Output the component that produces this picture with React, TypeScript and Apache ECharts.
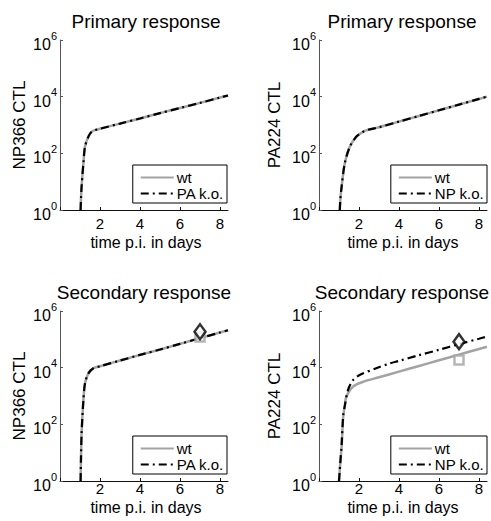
import React, { useEffect, useRef } from 'react';
import * as echarts from 'echarts';

const FONT = '"Liberation Sans", Arial, Helvetica, sans-serif';

// Panel A: NP366 primary response (wt vs PA k.o.)
const np1Days = [1.03, 1.05, 1.08, 1.17, 1.25, 1.42, 1.58, 1.75, 2, 3, 4, 5, 6, 7, 8, 8.4];
const np1Wt = [1, 2.5, 6.6, 45, 170, 390, 575, 660, 740, 1120, 1700, 2630, 3980, 6030, 9330, 10960];
const np1Ko = [1, 2.5, 6.6, 45, 170, 390, 575, 660, 740, 1120, 1700, 2630, 3980, 6030, 9330, 10960];

// Panel B: PA224 primary response (wt vs NP k.o.)
const pa1Days = [1.04, 1.07, 1.13, 1.29, 1.54, 1.87, 2.2, 2.5, 3, 4, 5, 6, 7, 8, 8.4];
const pa1Wt = [1, 2.5, 6.6, 45, 170, 390, 575, 690, 830, 1320, 2090, 3310, 5250, 8320, 10000];
const pa1Ko = [1, 2.5, 6.6, 45, 170, 390, 575, 690, 830, 1320, 2090, 3310, 5250, 8320, 10000];

// Panel C: NP366 secondary response
const np2Days = [1.03, 1.05, 1.08, 1.17, 1.25, 1.42, 1.67, 2, 3, 4, 5, 6, 7, 8, 8.4];
const np2Wt = [1, 6.3, 48, 720, 2800, 6300, 9550, 11200, 17800, 28200, 43600, 69200, 110000, 174000, 209000];
const np2Ko = [1, 6.3, 48, 720, 2800, 6300, 9550, 11200, 17800, 28200, 43600, 69200, 110000, 174000, 209000];
const np2MeasDay = [7];
const np2MeasWt = [120000];
const np2MeasKo = [186000];

// Panel D: PA224 secondary response
const pa2WtDays = [1.0, 1.06, 1.13, 1.21, 1.29, 1.37, 1.7, 2.2, 3, 4, 5, 6, 7, 8, 8.4];
const pa2Wt = [1, 4, 16, 186, 450, 955, 2140, 3160, 4570, 7240, 11500, 18200, 28800, 45700, 55000];
const pa2KoDays = [1.0, 1.06, 1.13, 1.21, 1.29, 1.45, 1.7, 2.03, 2.86, 3.53, 4, 5, 6, 7, 8, 8.4];
const pa2Ko = [1, 4, 18, 200, 450, 1620, 3630, 5500, 9550, 14100, 17400, 27500, 42700, 67600, 105000, 126000];
const pa2MeasDay = [7];
const pa2MeasWt = [18600];
const pa2MeasKo = [83000];

const titles = ['Primary response', 'Primary response', 'Secondary response', 'Secondary response'];
const yNames = ['NP366 CTL', 'PA224 CTL', 'NP366 CTL', 'PA224 CTL'];
const xName = 'time p.i. in days';
const koNames = ['PA k.o.', 'NP k.o.', 'PA k.o.', 'NP k.o.'];

const pairs = (xs: number[], ys: number[]) => xs.map((x, i) => [x, ys[i]]);

const GREY = '#a3a3a3';

export default function App() {
  const ref = useRef<HTMLDivElement>(null);
  useEffect(() => {
    if (!ref.current) return;
    const chart = echarts.init(ref.current, undefined, { renderer: 'svg' });
    const grids = [
      { left: 60, top: 40, width: 168, height: 170 },
      { left: 319, top: 40, width: 168, height: 170 },
      { left: 60, top: 311, width: 168, height: 170 },
      { left: 319, top: 311, width: 168, height: 170 },
    ];
    const xAxes = grids.map((_, i) => ({
      type: 'value',
      gridIndex: i,
      min: 0,
      max: 8.4,
      interval: 2,
      splitLine: { show: false },
      axisLine: { lineStyle: { color: '#111', width: 1 } },
      axisTick: { inside: true, length: 3, lineStyle: { color: '#111' } },
      axisLabel: {
        margin: i < 2 ? 7 : 1,
        fontSize: 15,
        lineHeight: 13,
        fontFamily: FONT,
        color: '#000',
        formatter: (v: number) => (v === 0 ? '' : String(v)),
      },
    }));
    const yAxes = grids.map((_, i) => ({
      type: 'log',
      logBase: 10,
      gridIndex: i,
      min: 1,
      max: 1e6,
      interval: 2,
      splitLine: { show: false },
      minorTick: { show: false },
      axisLine: { lineStyle: { color: '#555', width: 1 } },
      axisTick: { inside: true, length: 3, lineStyle: { color: '#555' } },
      axisLabel: {
        margin: 3,
        color: '#000',
        formatter: (v: number) => `{b|10}{e|${Math.round(Math.log10(v))}}`,
        rich: {
          b: { fontSize: 16, fontFamily: FONT, color: '#000', padding: [9, 0, 0, 0] },
          e: { fontSize: 11, fontFamily: FONT, color: '#000', padding: [0, 0, 9, 0] },
        },
      },
    }));

    const wtLine = (i: number, data: number[][]) => ({
      type: 'line',
      name: 'wt',
      xAxisIndex: i,
      yAxisIndex: i,
      data,
      symbol: 'none',
      smooth: 0.3,
      lineStyle: { color: GREY, width: 2.5, type: 'solid' },
      itemStyle: { color: GREY },
      z: 2,
    });
    const koLine = (i: number, data: number[][]) => ({
      type: 'line',
      name: koNames[i],
      xAxisIndex: i,
      yAxisIndex: i,
      data,
      symbol: 'none',
      smooth: 0.3,
      lineStyle: { color: '#000', width: 2.2, type: [8, 4, 2, 4] },
      itemStyle: { color: '#000' },
      z: 3,
    });
    const square = (i: number, data: number[][]) => ({
      type: 'scatter',
      name: 'meas-wt',
      xAxisIndex: i,
      yAxisIndex: i,
      data,
      symbol: 'rect',
      symbolSize: 9,
      itemStyle: { color: '#fff', borderColor: GREY, borderWidth: 2.5 },
      z: 4,
    });
    const diamond = (i: number, data: number[][]) => ({
      type: 'scatter',
      name: 'meas-ko',
      xAxisIndex: i,
      yAxisIndex: i,
      data,
      symbol: 'diamond',
      symbolSize: [11, 15],
      itemStyle: { color: '#fff', borderColor: '#000', borderWidth: 2.5 },
      z: 5,
    });

    const series = [
      wtLine(0, pairs(np1Days, np1Wt)),
      koLine(0, pairs(np1Days, np1Ko)),
      wtLine(1, pairs(pa1Days, pa1Wt)),
      koLine(1, pairs(pa1Days, pa1Ko)),
      wtLine(2, pairs(np2Days, np2Wt)),
      koLine(2, pairs(np2Days, np2Ko)),
      square(2, pairs(np2MeasDay, np2MeasWt)),
      diamond(2, pairs(np2MeasDay, np2MeasKo)),
      wtLine(3, pairs(pa2WtDays, pa2Wt)),
      koLine(3, pairs(pa2KoDays, pa2Ko)),
      square(3, pairs(pa2MeasDay, pa2MeasWt)),
      diamond(3, pairs(pa2MeasDay, pa2MeasKo)),
    ];

    const legendPos = [
      { right: 264, bottom: 318 },
      { right: 4, bottom: 318 },
      { right: 264, bottom: 47 },
      { right: 4, bottom: 47 },
    ];
    const legends = legendPos.map((p, i) => ({
      ...p,
      orient: 'vertical',
      data: ['wt', koNames[i]],
      itemWidth: 33,
      itemHeight: 14,
      itemGap: 1,
      padding: [5, 3, 2, 7],
      borderColor: '#000',
      borderWidth: 1,
      backgroundColor: '#fff',
      selectedMode: false,
      itemStyle: { opacity: 0, color: 'transparent', borderColor: 'transparent', borderWidth: 0 },
      textStyle: { fontSize: 15, fontFamily: FONT, color: '#000', padding: [0, 0, 0, -2] },
    }));

    const txt = (text: string, x: number, y: number, size: number, rot = 0) => ({
      type: 'text',
      x,
      y,
      rotation: rot,
      style: {
        text,
        fontSize: size,
        lineHeight: size - 2,
        fontFamily: FONT,
        fill: '#000',
        align: 'center',
        verticalAlign: 'middle',
      },
    });
    const titlePos = [
      [146, 21],
      [402, 21],
      [144, 292],
      [402, 292],
    ];
    const yNamePos = [
      [19, 125],
      [274, 125],
      [19, 396],
      [274, 396],
    ];
    const xNamePos = [
      [146, 242],
      [403, 242],
      [146, 507],
      [403, 507],
    ];
    const graphics: any[] = [];
    for (let i = 0; i < 4; i++) {
      graphics.push(txt(titles[i], titlePos[i][0], titlePos[i][1], 19));
      graphics.push(txt(yNames[i], yNamePos[i][0], yNamePos[i][1], 17, Math.PI / 2));
      graphics.push(txt(xName, xNamePos[i][0], xNamePos[i][1], 16));
    }

    chart.setOption({
      animation: false,
      backgroundColor: '#fff',
      grid: grids,
      xAxis: xAxes,
      yAxis: yAxes,
      legend: legends,
      series,
      graphic: graphics,
    } as any);
    return () => chart.dispose();
  }, []);
  return (
    <div
      ref={ref}
      style={{ position: 'absolute', left: 0, top: 0, width: 491, height: 521 }}
    />
  );
}
